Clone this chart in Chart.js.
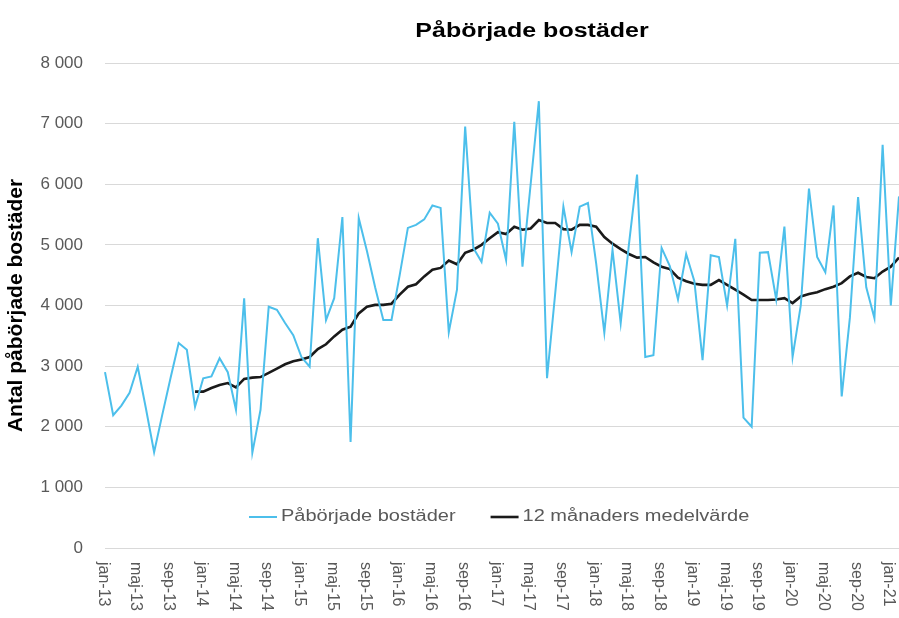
<!DOCTYPE html>
<html lang="sv">
<head>
<meta charset="utf-8">
<title>Påbörjade bostäder</title>
<script src="https://cdn.jsdelivr.net/npm/chart.js@4.4.1/dist/chart.umd.min.js"></script>
<style>
  html, body { margin: 0; padding: 0; background: #fff; }
  #wrap { width: 899px; height: 618px; position: relative; }
</style>
</head>
<body>
<div id="wrap"><canvas id="chart" width="899" height="618"></canvas></div>
<script>
const titleText = 'Påbörjade bostäder';
const yTitle = 'Antal påbörjade bostäder';

// one label per month, jan-13 .. feb-21
const months = [
  'jan-13','feb-13','mar-13','apr-13','maj-13','jun-13','jul-13','aug-13','sep-13','okt-13','nov-13','dec-13',
  'jan-14','feb-14','mar-14','apr-14','maj-14','jun-14','jul-14','aug-14','sep-14','okt-14','nov-14','dec-14',
  'jan-15','feb-15','mar-15','apr-15','maj-15','jun-15','jul-15','aug-15','sep-15','okt-15','nov-15','dec-15',
  'jan-16','feb-16','mar-16','apr-16','maj-16','jun-16','jul-16','aug-16','sep-16','okt-16','nov-16','dec-16',
  'jan-17','feb-17','mar-17','apr-17','maj-17','jun-17','jul-17','aug-17','sep-17','okt-17','nov-17','dec-17',
  'jan-18','feb-18','mar-18','apr-18','maj-18','jun-18','jul-18','aug-18','sep-18','okt-18','nov-18','dec-18',
  'jan-19','feb-19','mar-19','apr-19','maj-19','jun-19','jul-19','aug-19','sep-19','okt-19','nov-19','dec-19',
  'jan-20','feb-20','mar-20','apr-20','maj-20','jun-20','jul-20','aug-20','sep-20','okt-20','nov-20','dec-20',
  'jan-21','feb-21'
];

const starts = [
  2900, 2190, 2350, 2560, 2990, 2300, 1580, 2200, 2800, 3380, 3270, 2330,
  2800, 2830, 3130, 2900, 2280, 4120, 1570, 2280, 3980, 3930, 3710, 3510,
  3150, 2990, 5110, 3760, 4120, 5460, 1750, 5440, 4900, 4300, 3760, 3760,
  4500, 5280, 5330, 5420, 5650, 5610, 3560, 4260, 6950, 4950, 4720, 5530,
  5350, 4750, 7030, 4640, 6000, 7370, 2800, 4200, 5630, 4880, 5630, 5690,
  4700, 3550, 4920, 3710, 5000, 6160, 3150, 3180, 4950, 4650, 4100, 4850,
  4400, 3100, 4830, 4800, 4000, 5100, 2150, 2000, 4870, 4880, 4100, 5300,
  3150, 4000, 5930, 4800, 4550, 5650, 2500, 3800, 5790, 4300, 3790, 6650,
  4000, 5800
];

const avg12 = [
  null, null, null, null, null, null, null, null, null, null, null, 2580,
  2580, 2640, 2690, 2720, 2650, 2790, 2810, 2820, 2890, 2960, 3030, 3080,
  3110, 3150, 3280, 3360, 3490, 3600, 3650, 3870, 3980, 4010, 4010, 4030,
  4180, 4310, 4350, 4480, 4590, 4620, 4740, 4680, 4870, 4920, 5000, 5110,
  5210, 5180, 5300, 5250, 5270, 5410, 5360, 5360, 5260, 5250, 5330, 5330,
  5300, 5130, 5020, 4930, 4850, 4790, 4800, 4710, 4640, 4600, 4460, 4400,
  4360, 4340, 4340, 4420, 4340, 4260, 4180, 4090, 4090, 4090, 4100, 4120,
  4040, 4150, 4190, 4220, 4270, 4310, 4370, 4480, 4540, 4470, 4450, 4560,
  4640, 4790
];

const yTicks = [0, 1000, 2000, 3000, 4000, 5000, 6000, 7000, 8000];

const FONT = '"Liberation Sans", Arial, sans-serif';
const GREY = '#595959';

function fmt(v) {
  return String(v).replace(/\B(?=(\d{3})+(?!\d))/g, ' ');
}

// title, rotated month labels and the in-plot legend
const overlay = {
  id: 'overlay',
  afterDraw(chart) {
    const { ctx, chartArea } = chart;
    const xs = chart.scales.x;
    ctx.save();

    ctx.fillStyle = '#000';
    ctx.font = 'bold 20px ' + FONT;
    ctx.textAlign = 'center';
    ctx.textBaseline = 'middle';
    ctx.save();
    ctx.translate(532, 31);
    ctx.scale(1.25, 1);
    ctx.fillText(titleText, 0, 0);
    ctx.restore();

    ctx.fillStyle = GREY;
    ctx.font = '16px ' + FONT;
    ctx.textAlign = 'left';
    months.forEach((m, i) => {
      if (i % 4) return;
      const px = xs.getPixelForValue(i);
      ctx.save();
      ctx.translate(px - 2, chartArea.bottom + 14);
      ctx.rotate(Math.PI / 2);
      ctx.fillText(m, 0, 0);
      ctx.restore();
    });

    let x = 249;
    const y = 517;
    chart.data.datasets.forEach(ds => {
      ctx.strokeStyle = ds.borderColor;
      ctx.lineWidth = ds.borderWidth;
      ctx.beginPath();
      ctx.moveTo(x, y);
      ctx.lineTo(x + 28, y);
      ctx.stroke();
      ctx.save();
      ctx.translate(x + 32, y);
      ctx.scale(1.25, 1);
      ctx.fillStyle = GREY;
      ctx.fillText(ds.label, 0, 0);
      const w = ctx.measureText(ds.label).width * 1.25;
      ctx.restore();
      x += 32 + w + 35;
    });

    ctx.restore();
  }
};

new Chart(document.getElementById('chart'), {
  type: 'line',
  data: {
    labels: months,
    datasets: [
      {
        label: 'Påbörjade bostäder',
        data: starts,
        borderColor: '#4cbfeb',
        borderWidth: 2,
        pointRadius: 0,
        tension: 0
      },
      {
        label: '12 månaders medelvärde',
        data: avg12,
        borderColor: '#1a1a1a',
        borderWidth: 2.6,
        pointRadius: 0,
        tension: 0
      }
    ]
  },
  options: {
    responsive: false,
    animation: false,
    layout: { padding: { left: 0, right: 0, top: 63, bottom: 70 } },
    plugins: {
      legend: { display: false },
      title: { display: false },
      tooltip: { enabled: false }
    },
    scales: {
      x: {
        display: false,
        offset: false
      },
      y: {
        min: yTicks[0],
        max: yTicks[yTicks.length - 1],
        afterBuildTicks: s => { s.ticks = yTicks.map(v => ({ value: v })); },
        afterFit: s => { s.width = 105; },
        border: { display: false },
        grid: { color: '#d9d9d9', lineWidth: 1, drawTicks: false },
        ticks: {
          padding: 22,
          color: GREY,
          font: { family: FONT, size: 17 },
          callback: v => fmt(v)
        },
        title: {
          display: true,
          text: yTitle,
          color: '#000',
          font: { family: FONT, size: 21, weight: 'bold' },
          padding: { top: 4, bottom: 0 }
        }
      }
    }
  },
  plugins: [overlay]
});
</script>
</body>
</html>
